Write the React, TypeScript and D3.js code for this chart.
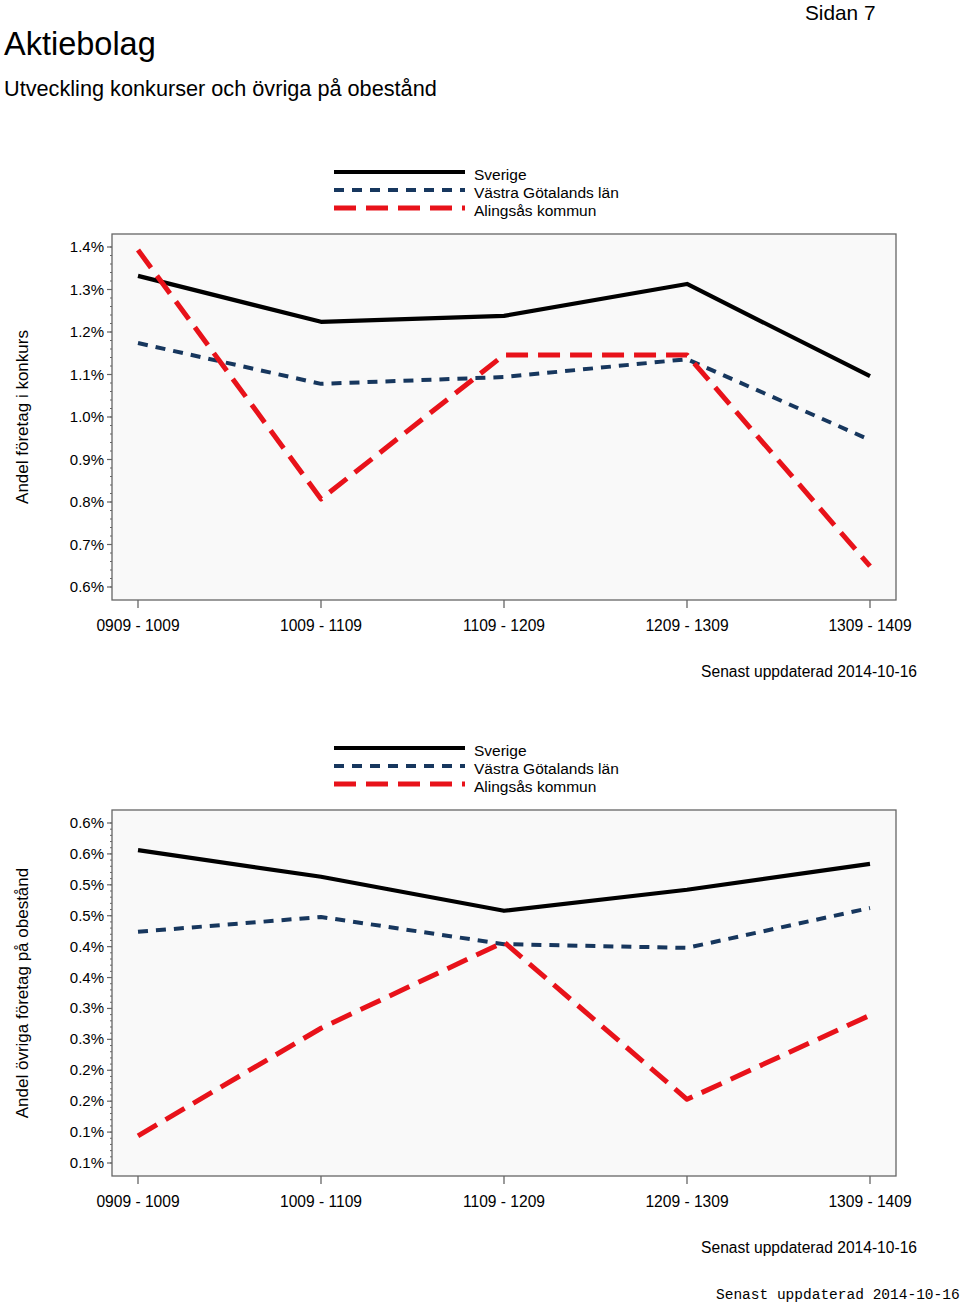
import React from "react";
import * as d3 from "d3";

const categories = ["0909 - 1009", "1009 - 1109", "1109 - 1209", "1209 - 1309", "1309 - 1409"];
const seriesNames = ["Sverige", "Västra Götalands län", "Alingsås kommun"];

const konkursSverige = [1.332, 1.224, 1.238, 1.313, 1.096];
const konkursVastra = [1.174, 1.078, 1.094, 1.136, 0.946];
const konkursAlingsas = [1.393, 0.807, 1.146, 1.146, 0.649];
const konkursTicks = [0.6, 0.7, 0.8, 0.9, 1.0, 1.1, 1.2, 1.3, 1.4];

const obestandSverige = [0.556, 0.513, 0.458, 0.492, 0.534];
const obestandVastra = [0.424, 0.448, 0.404, 0.398, 0.4625];
const obestandAlingsas = [0.094, 0.268, 0.4075, 0.153, 0.289];
const obestandTicks = [0.05, 0.1, 0.15, 0.2, 0.25, 0.3, 0.35, 0.4, 0.45, 0.5, 0.55, 0.6];

const FONT = "'Liberation Sans', Arial, sans-serif";
const styles = [
  { color: "#000000", width: 4.2, dash: "none" },
  { color: "#17375e", width: 4, dash: "10 8" },
  { color: "#e8121a", width: 5, dash: "22 10" },
];

function fmt(v: number) {
  return (Math.floor(v * 10 + 0.5 + 1e-9) / 10).toFixed(1) + "%";
}

type PanelProps = {
  top: number;
  yTitle: string;
  series: number[][];
  ticks: number[];
  domain: [number, number];
  minorStep: number;
};

function Panel({ top, yTitle, series, ticks, domain, minorStep }: PanelProps) {
  const left = 112, right = 896;
  const legendTop = top - 62;
  const plotTop = top, plotBottom = top + 366;
  const x = d3.scalePoint<string>().domain(categories).range([138, 870]);
  const y = d3.scaleLinear().domain(domain).range([plotBottom, plotTop]);
  const line = d3
    .line<number>()
    .x((_, i) => x(categories[i]) as number)
    .y((d) => y(d));
  const minors: number[] = [];
  const lo = ticks[0], hi = ticks[ticks.length - 1];
  for (let v = lo; v <= hi + 1e-9; v += minorStep) minors.push(v);

  return (
    <g>
      {seriesNames.map((n, i) => (
        <g key={n}>
          <line
            x1={334}
            x2={465}
            y1={legendTop + i * 18}
            y2={legendTop + i * 18}
            stroke={styles[i].color}
            strokeWidth={styles[i].width}
            strokeDasharray={styles[i].dash}
          />
          <text x={474} y={legendTop + i * 18 + 8} fontFamily={FONT} fontSize={15.5} fill="#000">
            {n}
          </text>
        </g>
      ))}
      <rect x={left} y={plotTop} width={right - left} height={plotBottom - plotTop} fill="#f9f9f9" stroke="#666" strokeWidth={1.3} />
      {minors.map((v, i) => (
        <line key={"m" + i} x1={left - 2} x2={left} y1={y(v)} y2={y(v)} stroke="#666" strokeWidth={1} />
      ))}
      {ticks.map((v) => (
        <g key={"t" + v}>
          <line x1={left - 5} x2={left} y1={y(v)} y2={y(v)} stroke="#666" strokeWidth={1.2} />
          <text x={104} y={y(v) + 5} textAnchor="end" fontFamily={FONT} fontSize={15} fill="#000">
            {fmt(v)}
          </text>
        </g>
      ))}
      {categories.map((c) => (
        <g key={c}>
          <line x1={x(c)} x2={x(c)} y1={plotBottom} y2={plotBottom + 8} stroke="#666" strokeWidth={1.3} />
          <text x={x(c)} y={plotBottom + 31} textAnchor="middle" fontFamily={FONT} fontSize={15.6} fill="#000">
            {c}
          </text>
        </g>
      ))}
      {series.map((s, i) => (
        <path
          key={"s" + i}
          d={line(s) || ""}
          fill="none"
          stroke={styles[i].color}
          strokeWidth={styles[i].width}
          strokeDasharray={styles[i].dash}
          strokeLinejoin="round"
        />
      ))}
      <text
        transform={`translate(28, ${(plotTop + plotBottom) / 2}) rotate(-90)`}
        textAnchor="middle"
        fontFamily={FONT}
        fontSize={17}
        fill="#000"
      >
        {yTitle}
      </text>
      <text x={917} y={plotBottom + 77} textAnchor="end" fontFamily={FONT} fontSize={15.6} fill="#000">
        Senast uppdaterad 2014-10-16
      </text>
    </g>
  );
}

export default function App() {
  return (
    <svg
      width={960}
      height={1306}
      style={{ position: "absolute", left: 0, top: 0, background: "#fff" }}
    >
      <text x={805} y={20} fontFamily={FONT} fontSize={20.8} fill="#000">
        Sidan 7
      </text>
      <text x={4} y={55} fontFamily={FONT} fontSize={32.5} fill="#000">
        Aktiebolag
      </text>
      <text x={4} y={96} fontFamily={FONT} fontSize={21.7} fill="#000">
        Utveckling konkurser och övriga på obestånd
      </text>
      <Panel
        top={234}
        yTitle="Andel företag i konkurs"
        series={[konkursSverige, konkursVastra, konkursAlingsas]}
        ticks={konkursTicks}
        domain={[0.6 - 13 / 425, 1.4 + 13 / 425]}
        minorStep={0.02}
      />
      <Panel
        top={810}
        yTitle="Andel övriga företag på obestånd"
        series={[obestandSverige, obestandVastra, obestandAlingsas]}
        ticks={obestandTicks}
        domain={[0.05 - 13 / 618, 0.6 + 13 / 618]}
        minorStep={0.01}
      />
      <text x={716} y={1299} fontFamily="'Liberation Mono', 'Courier New', monospace" fontSize={14.5} fill="#000">
        Senast uppdaterad 2014-10-16
      </text>
    </svg>
  );
}
